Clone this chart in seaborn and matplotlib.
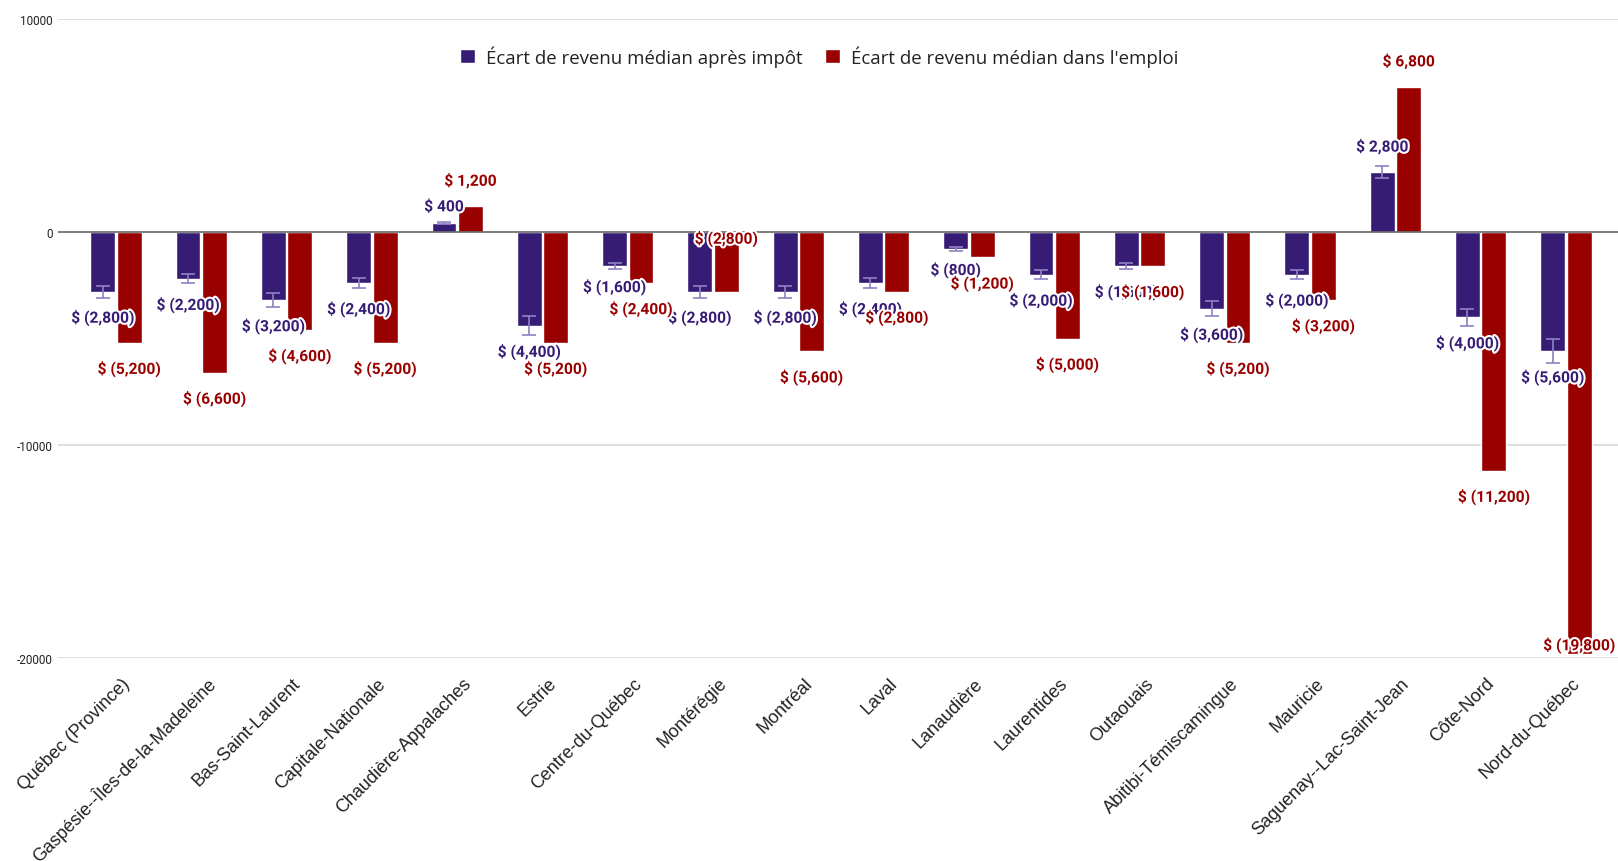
import numpy as np
import pandas as pd
import matplotlib
matplotlib.use("Agg")
import matplotlib.pyplot as plt
import matplotlib.patheffects as pe
import matplotlib.transforms as mtransforms
from matplotlib.patches import Patch
import seaborn as sns

# --- Data ---

REGIONS = [
    "Québec (Province)", "Gaspésie--Îles-de-la-Madeleine", "Bas-Saint-Laurent",
    "Capitale-Nationale", "Chaudière-Appalaches", "Estrie", "Centre-du-Québec",
    "Montérégie", "Montréal", "Laval", "Lanaudière", "Laurentides", "Outaouais",
    "Abitibi-Témiscamingue", "Mauricie", "Saguenay--Lac-Saint-Jean", "Côte-Nord",
    "Nord-du-Québec",
]
APRES_IMPOT = [-2800, -2200, -3200, -2400, 400, -4400, -1600, -2800, -2800,
               -2400, -800, -2000, -1600, -3600, -2000, 2800, -4000, -5600]
EMPLOI = [-5200, -6600, -4600, -5200, 1200, -5200, -2400, -2800, -5600,
          -2800, -1200, -5000, -1600, -5200, -3200, 6800, -11200, -19800]
ERREUR_APRES_IMPOT = [280, 220, 320, 240, 40, 440, 160, 280, 280,
                      240, 80, 200, 160, 360, 200, 280, 400, 560]

SERIE_1 = "Écart de revenu médian après impôt"
SERIE_2 = "Écart de revenu médian dans l'emploi"

Y_TICKS = [-20000, -10000, 0, 10000]

PURPLE = "#371c75"
RED = "#990000"
ERR_COLOR = "#8f82c2"

# label offsets (px beyond bar end); special cases where the source chart moved labels
LABEL_OFFSET = 26
LABEL_NUDGE = {
    (SERIE_1, "Chaudière-Appalaches"): 17,
    (SERIE_1, "Centre-du-Québec"): 21,
    (SERIE_1, "Lanaudière"): 21,
    (SERIE_2, "Montérégie"): -53,
    (SERIE_2, "Nord-du-Québec"): -9,
}


def fmt_dollar(v):
    if v < 0:
        return f"$ ({abs(v):,})"
    return f"$ {v:,}"


df = pd.DataFrame({"region": REGIONS, SERIE_1: APRES_IMPOT, SERIE_2: EMPLOI})
long_df = df.melt(id_vars="region", var_name="serie", value_name="valeur")

sns.set_theme(style="white")
plt.rcParams["axes.unicode_minus"] = False

fig = plt.figure(figsize=(16.18, 8.62), dpi=100)
ax = fig.add_axes([58 / 1618, 1 - 659.4 / 862, 1 - 58 / 1618, (659.4 - 19.6) / 862])

sns.barplot(data=long_df, x="region", y="valeur", hue="serie",
            palette=[PURPLE, RED], width=0.62, gap=0.06, saturation=1,
            errorbar=None, legend=False, ax=ax)

ax.set_ylim(-20000, 10000)
ax.set_xlim(-0.68, 17.61)

# error bars on the after-tax series
purple_bars = ax.containers[0]
xs = [b.get_x() + b.get_width() / 2 for b in purple_bars]
ax.errorbar(xs, APRES_IMPOT, yerr=ERREUR_APRES_IMPOT, fmt="none",
            ecolor=ERR_COLOR, elinewidth=1.2, capsize=5, capthick=1.2, zorder=3)

# data labels
outline = [pe.withStroke(linewidth=3, foreground="white")]
for serie, values, color, cont in [(SERIE_1, APRES_IMPOT, PURPLE, ax.containers[0]),
                                   (SERIE_2, EMPLOI, RED, ax.containers[1])]:
    for region, v, bar in zip(REGIONS, values, cont):
        x = bar.get_x() + bar.get_width() / 2
        off = LABEL_NUDGE.get((serie, region), LABEL_OFFSET)
        dy = off if v >= 0 else -off
        ax.annotate(fmt_dollar(v), (x, v), xytext=(0, dy * 0.72),
                    textcoords="offset points", ha="center", va="center",
                    fontsize=11.2, fontweight="bold", color=color,
                    family="Roboto", path_effects=outline, zorder=5)

# grid and axis
for y in Y_TICKS:
    if y == 0:
        ax.axhline(y, color="#666666", lw=1.2, zorder=2)
    else:
        ax.axhline(y, color="#d9d9d9", lw=1.2, zorder=0)
sns.despine(ax=ax, left=True, bottom=True, top=True, right=True)

ax.set_yticks(Y_TICKS)
ax.set_yticklabels([str(t) for t in Y_TICKS], fontsize=8.5, color="#222222",
                   family="Roboto")
ax.tick_params(axis="y", length=0, pad=4)
ax.tick_params(axis="x", length=0, pad=16)
ax.set_xticks(range(len(REGIONS)))
ax.set_xticklabels(REGIONS, rotation=45, ha="right", va="center",
                   rotation_mode="anchor", fontsize=13,
                   family="Liberation Sans", color="#222222")
shift = mtransforms.ScaledTranslation(8 / 72, 0, fig.dpi_scale_trans)
for lbl in ax.get_xticklabels():
    lbl.set_transform(lbl.get_transform() + shift)
ax.set_xlabel("")
ax.set_ylabel("")

handles = [Patch(facecolor=PURPLE, label=SERIE_1), Patch(facecolor=RED, label=SERIE_2)]
ax.legend(handles=handles, loc="center", bbox_to_anchor=(0.488, 0.9415), ncol=2,
          frameon=False, handlelength=0.8, handleheight=0.8, handletextpad=0.6,
          columnspacing=1.2, prop={"family": "Open Sans", "size": 13.4},
          labelcolor="#222222")

fig.savefig("out.png", dpi=100)
